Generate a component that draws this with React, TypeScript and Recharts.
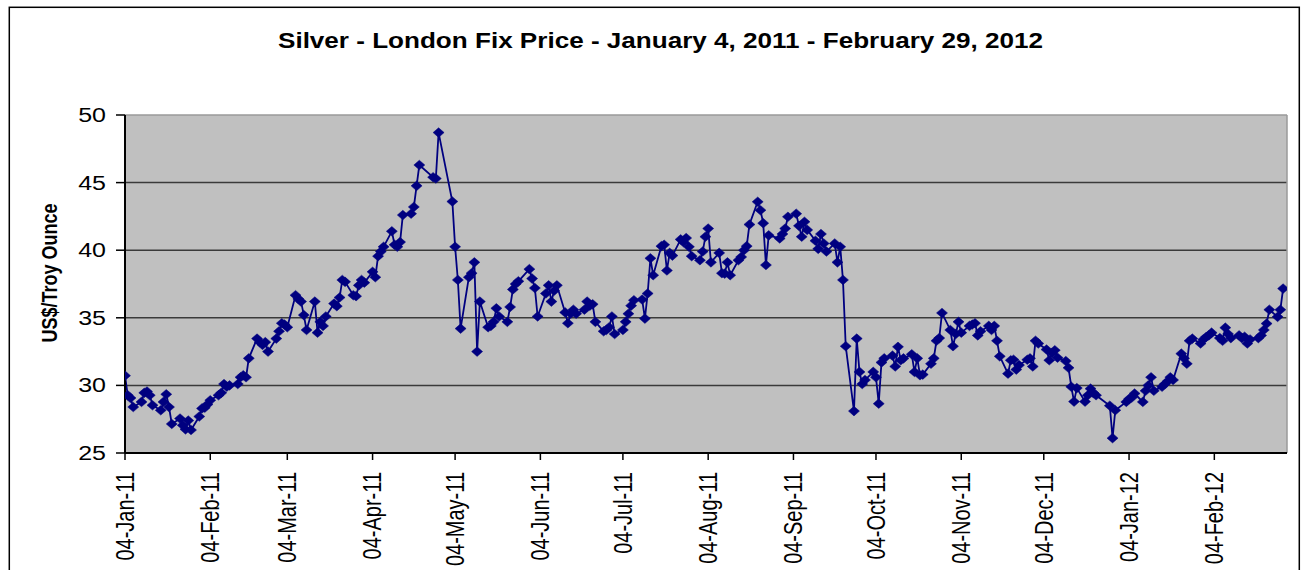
import { LineChart, Line, XAxis, YAxis, CartesianGrid, ReferenceLine } from "recharts";

// London fix dates (business days) and prices
const dates = [
  // Jan 2011
  "2011-01-04", "2011-01-05", "2011-01-06", "2011-01-07", "2011-01-10", "2011-01-11", "2011-01-12",
  "2011-01-13", "2011-01-14", "2011-01-17", "2011-01-18", "2011-01-19", "2011-01-20", "2011-01-21",
  "2011-01-24", "2011-01-25", "2011-01-26", "2011-01-27", "2011-01-28", "2011-01-31",
  // Feb 2011
  "2011-02-01", "2011-02-02", "2011-02-03", "2011-02-04", "2011-02-07", "2011-02-08", "2011-02-09",
  "2011-02-10", "2011-02-11", "2011-02-14", "2011-02-15", "2011-02-16", "2011-02-17", "2011-02-18",
  "2011-02-21", "2011-02-22", "2011-02-23", "2011-02-24", "2011-02-25", "2011-02-28",
  // Mar 2011
  "2011-03-01", "2011-03-02", "2011-03-03", "2011-03-04", "2011-03-07", "2011-03-08", "2011-03-09",
  "2011-03-10", "2011-03-11", "2011-03-14", "2011-03-15", "2011-03-16", "2011-03-17", "2011-03-18",
  "2011-03-21", "2011-03-22", "2011-03-23", "2011-03-24", "2011-03-25", "2011-03-28", "2011-03-29",
  "2011-03-30", "2011-03-31",
  // Apr 2011
  "2011-04-01", "2011-04-04", "2011-04-05", "2011-04-06", "2011-04-07", "2011-04-08", "2011-04-11",
  "2011-04-12", "2011-04-13", "2011-04-14", "2011-04-15", "2011-04-18", "2011-04-19", "2011-04-20",
  "2011-04-21", "2011-04-26", "2011-04-27", "2011-04-28",
  // May 2011
  "2011-05-03", "2011-05-04", "2011-05-05", "2011-05-06", "2011-05-09", "2011-05-10", "2011-05-11",
  "2011-05-12", "2011-05-13", "2011-05-16", "2011-05-17", "2011-05-18", "2011-05-19", "2011-05-20",
  "2011-05-23", "2011-05-24", "2011-05-25", "2011-05-26", "2011-05-27", "2011-05-31",
  // Jun 2011
  "2011-06-01", "2011-06-02", "2011-06-03", "2011-06-06", "2011-06-07", "2011-06-08", "2011-06-09",
  "2011-06-10", "2011-06-13", "2011-06-14", "2011-06-15", "2011-06-16", "2011-06-17", "2011-06-20",
  "2011-06-21", "2011-06-22", "2011-06-23", "2011-06-24", "2011-06-27", "2011-06-28", "2011-06-29",
  "2011-06-30",
  // Jul 2011
  "2011-07-01", "2011-07-04", "2011-07-05", "2011-07-06", "2011-07-07", "2011-07-08", "2011-07-11",
  "2011-07-12", "2011-07-13", "2011-07-14", "2011-07-15", "2011-07-18", "2011-07-19", "2011-07-20",
  "2011-07-21", "2011-07-22", "2011-07-25", "2011-07-26", "2011-07-27", "2011-07-28", "2011-07-29",
  // Aug 2011
  "2011-08-01", "2011-08-02", "2011-08-03", "2011-08-04", "2011-08-05", "2011-08-08", "2011-08-09",
  "2011-08-10", "2011-08-11", "2011-08-12", "2011-08-15", "2011-08-16", "2011-08-17", "2011-08-18",
  "2011-08-19", "2011-08-22", "2011-08-23", "2011-08-24", "2011-08-25", "2011-08-26", "2011-08-30",
  "2011-08-31",
  // Sep 2011
  "2011-09-01", "2011-09-02", "2011-09-05", "2011-09-06", "2011-09-07", "2011-09-08", "2011-09-09",
  "2011-09-12", "2011-09-13", "2011-09-14", "2011-09-15", "2011-09-16", "2011-09-19", "2011-09-20",
  "2011-09-21", "2011-09-22", "2011-09-23", "2011-09-26", "2011-09-27", "2011-09-28", "2011-09-29",
  "2011-09-30",
  // Oct 2011
  "2011-10-03", "2011-10-04", "2011-10-05", "2011-10-06", "2011-10-07", "2011-10-10", "2011-10-11",
  "2011-10-12", "2011-10-13", "2011-10-14", "2011-10-17", "2011-10-18", "2011-10-19", "2011-10-20",
  "2011-10-21", "2011-10-24", "2011-10-25", "2011-10-26", "2011-10-27", "2011-10-28", "2011-10-31",
  // Nov 2011
  "2011-11-01", "2011-11-02", "2011-11-03", "2011-11-04", "2011-11-07", "2011-11-08", "2011-11-09",
  "2011-11-10", "2011-11-11", "2011-11-14", "2011-11-15", "2011-11-16", "2011-11-17", "2011-11-18",
  "2011-11-21", "2011-11-22", "2011-11-23", "2011-11-24", "2011-11-25", "2011-11-28", "2011-11-29",
  "2011-11-30",
  // Dec 2011
  "2011-12-01", "2011-12-02", "2011-12-05", "2011-12-06", "2011-12-07", "2011-12-08", "2011-12-09",
  "2011-12-12", "2011-12-13", "2011-12-14", "2011-12-15", "2011-12-16", "2011-12-19", "2011-12-20",
  "2011-12-21", "2011-12-22", "2011-12-23", "2011-12-28", "2011-12-29", "2011-12-30",
  // Jan 2012
  "2012-01-03", "2012-01-04", "2012-01-05", "2012-01-06", "2012-01-09", "2012-01-10", "2012-01-11",
  "2012-01-12", "2012-01-13", "2012-01-16", "2012-01-17", "2012-01-18", "2012-01-19", "2012-01-20",
  "2012-01-23", "2012-01-24", "2012-01-25", "2012-01-26", "2012-01-27", "2012-01-30", "2012-01-31",
  // Feb 2012
  "2012-02-01", "2012-02-02", "2012-02-03", "2012-02-06", "2012-02-07", "2012-02-08", "2012-02-09",
  "2012-02-10", "2012-02-13", "2012-02-14", "2012-02-15", "2012-02-16", "2012-02-17", "2012-02-20",
  "2012-02-21", "2012-02-22", "2012-02-23", "2012-02-24", "2012-02-27", "2012-02-28", "2012-02-29",
];

const prices = [
  // Jan 2011
  30.72, 29.27, 29.07, 28.4, 28.78, 29.45, 29.55, 29.27, 28.53, 28.16, 28.78, 29.34, 28.4, 27.15,
  27.55, 27.05, 26.75, 27.4, 26.7, 27.7,
  // Feb 2011
  28.3, 28.35, 28.6, 28.9, 29.27, 29.45, 30.1, 29.9, 30.0, 30.1, 30.6, 30.75, 30.6, 32.0,
  33.46, 33.2, 33.0, 33.2, 32.5, 33.46,
  // Mar 2011
  34.0, 34.6, 34.5, 34.3, 36.67, 36.4, 36.2, 35.2, 34.1, 36.2, 33.9, 34.7, 34.4, 35.1,
  36.05, 35.86, 36.5, 37.8, 37.66, 36.67, 36.6, 37.4, 37.8,
  // Apr 2011
  37.6, 38.4, 38.0, 39.56, 39.9, 40.25, 41.4, 40.4, 40.25, 40.6, 42.6, 42.7, 43.2, 44.76,
  46.3, 45.4, 45.3, 48.7,
  // May 2011
  43.6, 40.25, 37.8, 34.2, 38.0, 38.3, 39.1, 32.5, 36.2, 34.3, 34.4, 34.7, 35.7, 35.1,
  34.7, 35.8, 37.1, 37.5, 37.7, 38.6,
  // Jun 2011
  37.9, 37.2, 35.1, 36.8, 37.4, 36.2, 37.0, 37.4, 35.4, 34.6, 35.3, 35.6, 35.3, 35.6,
  36.2, 35.9, 36.0, 34.7, 34.0, 34.1, 34.3, 35.1,
  // Jul 2011
  33.8, 34.1, 34.7, 35.3, 35.9, 36.3, 36.35, 34.94, 36.8, 39.4, 38.15, 40.3, 40.4, 38.5,
  39.8, 39.6, 40.8, 40.6, 40.9, 40.25, 39.56,
  // Aug 2011
  39.26, 39.9, 41.0, 41.6, 39.1, 39.8, 38.3, 38.27, 39.1, 38.15, 39.26, 39.5, 40.0, 40.3,
  41.9, 43.58, 42.96, 42.0, 38.9, 41.1, 40.87, 41.2,
  // Sep 2011
  41.6, 42.47, 42.7, 41.8, 41.0, 42.1, 41.5, 40.7, 40.1, 41.2, 40.5, 39.9, 40.5, 39.1,
  40.25, 37.8, 32.9, 28.1, 33.46, 31.0, 30.1, 30.4,
  // Oct 2011
  31.0, 30.6, 28.65, 31.7, 32.0, 32.2, 31.4, 32.85, 31.86, 32.0, 32.3, 31.0, 32.0, 30.75,
  30.8, 31.6, 32.0, 33.3, 33.5, 35.36, 34.1,
  // Nov 2011
  32.9, 33.8, 34.7, 33.9, 34.4, 34.5, 34.6, 33.7, 34.0, 34.4, 34.1, 34.4, 33.3, 32.15,
  30.87, 31.86, 31.9, 31.17, 31.5, 31.9, 32.0, 31.4,
  // Dec 2011
  33.3, 33.1, 32.65, 31.86, 32.4, 32.6, 32.05, 31.8, 31.3, 29.9, 28.8, 29.8, 28.8, 29.27,
  29.76, 29.45, 29.27, 28.5, 26.1, 28.16,
  // Jan 2012
  28.78, 29.0, 29.1, 29.4, 28.78, 29.6, 30.0, 30.6, 29.6, 29.9, 30.1, 30.3, 30.6, 30.4,
  32.35, 32.0, 31.6, 33.3, 33.46, 33.1, 33.4,
  // Feb 2012
  33.58, 33.7, 33.9, 33.5, 33.3, 34.27, 33.8, 33.5, 33.7, 33.5, 33.6, 33.1, 33.4, 33.5,
  33.7, 34.1, 34.57, 35.6, 35.07, 35.6, 37.16,
];

const tickDates = [
  "2011-01-04", "2011-02-04", "2011-03-04", "2011-04-04", "2011-05-04", "2011-06-04", "2011-07-04",
  "2011-08-04", "2011-09-04", "2011-10-04", "2011-11-04", "2011-12-04", "2012-01-04", "2012-02-04",
];
const tickLabels = [
  "04-Jan-11", "04-Feb-11", "04-Mar-11", "04-Apr-11", "04-May-11", "04-Jun-11", "04-Jul-11",
  "04-Aug-11", "04-Sep-11", "04-Oct-11", "04-Nov-11", "04-Dec-11", "04-Jan-12", "04-Feb-12",
];
const yTicks = [25, 30, 35, 40, 45, 50];
const gridValues = [30, 35, 40, 45];

const axisStart = Date.parse("2011-01-04T00:00:00Z");
const axisEnd = Date.parse("2012-03-01T10:00:00Z");

const data = dates.map((d, i) => ({ t: Date.parse(d), price: prices[i] }));
const tickTimes = tickDates.map((d) => Date.parse(d));

const FONT = "'Liberation Sans', Arial, Helvetica, sans-serif";
// the reference was stretched sideways, so the text is too
const STRETCH = 1.25;

function XTick(props: any) {
  const { x, y, index } = props;
  return (
    <text
      transform={`translate(${x},${y}) scale(${STRETCH},1) rotate(-90)`}
      textAnchor="end"
      dy="0.35em"
      fontSize={20}
      fontFamily={FONT}
      fill="#000"
    >
      {tickLabels[index]}
    </text>
  );
}

function YTick(props: any) {
  const { x, y, payload } = props;
  return (
    <text
      transform={`translate(${x},${y}) scale(${STRETCH},1)`}
      textAnchor="end"
      dy="0.35em"
      fontSize={20}
      fontFamily={FONT}
      fill="#000"
    >
      {payload.value}
    </text>
  );
}

function Diamond(props: any) {
  const { cx, cy, index } = props;
  if (cx == null || cy == null) return <g key={index} />;
  return (
    <path
      key={index}
      d={`M${cx - 5.5},${cy}L${cx},${cy - 4.8}L${cx + 5.5},${cy}L${cx},${cy + 4.8}Z`}
      fill="#000080"
      stroke="#000080"
      strokeWidth={0.5}
    />
  );
}

export default function App() {
  return (
    <div
      style={{
        position: "absolute",
        left: 0,
        top: 0,
        width: 1307,
        height: 570,
        overflow: "hidden",
        background: "#fff",
      }}
    >
      <LineChart
        width={1307}
        height={570}
        data={data}
        margin={{ top: 115, right: 20, bottom: 0, left: 0 }}
      >
        <CartesianGrid
          vertical={false}
          horizontalValues={gridValues}
          fill="#C0C0C0"
          fillOpacity={1}
          stroke="#3a3a3a"
          strokeWidth={1.5}
        />
        <XAxis
          dataKey="t"
          type="number"
          domain={[axisStart, axisEnd]}
          ticks={tickTimes}
          interval={0}
          height={117}
          tickSize={7}
          tickMargin={12}
          axisLine={{ stroke: "#000", strokeWidth: 2 }}
          tickLine={{ stroke: "#000", strokeWidth: 1.5 }}
          tick={<XTick />}
          allowDataOverflow
        />
        <YAxis
          type="number"
          domain={[25, 50]}
          ticks={yTicks}
          interval={0}
          width={125}
          tickSize={9}
          tickMargin={10}
          axisLine={{ stroke: "#000", strokeWidth: 2 }}
          tickLine={{ stroke: "#000", strokeWidth: 1.5 }}
          tick={<YTick />}
          allowDataOverflow
        />
        <ReferenceLine y={50} stroke="#9a9a9a" strokeWidth={1.5} />
        <ReferenceLine x={axisEnd} stroke="#9a9a9a" strokeWidth={1.5} />
        <Line
          type="linear"
          dataKey="price"
          stroke="#000080"
          strokeWidth={1.8}
          dot={Diamond}
          activeDot={false}
          isAnimationActive={false}
        />
      </LineChart>
      <svg
        width={1307}
        height={570}
        style={{ position: "absolute", left: 0, top: 0, pointerEvents: "none" }}
      >
        <rect x={9.3} y={7.3} width={1290} height={620} fill="none" stroke="#000" strokeWidth={1.5} />
        <text
          x={660.5}
          y={47.5}
          textAnchor="middle"
          fontSize={21.8}
          fontWeight="bold"
          fontFamily={FONT}
          textLength={765}
          lengthAdjust="spacingAndGlyphs"
          fill="#000"
        >
          Silver - London Fix Price - January 4, 2011 - February 29, 2012
        </text>
        <text
          transform={`translate(56.5,273) scale(${STRETCH},1) rotate(-90)`}
          textAnchor="middle"
          fontSize={18}
          fontWeight="bold"
          fontFamily={FONT}
          fill="#000"
        >
          US$/Troy Ounce
        </text>
      </svg>
    </div>
  );
}
